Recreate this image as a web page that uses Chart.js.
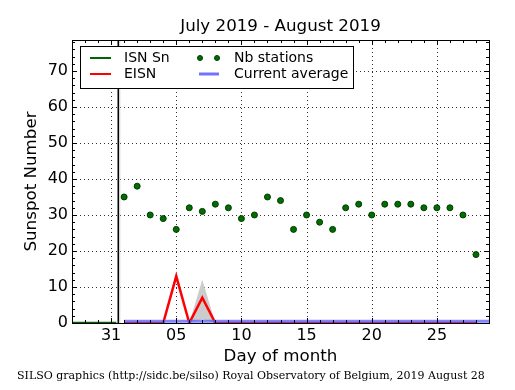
<!DOCTYPE html>
<html>
<head>
<meta charset="utf-8">
<script src="https://cdn.jsdelivr.net/npm/chart.js@4/dist/chart.umd.min.js"></script>
<style>
  body { margin: 0; background: #fff; }
  canvas { display: block; }
</style>
</head>
<body>
<canvas id="chart" width="515" height="390"></canvas>
<script>
// Days: 0 = July 31, 1..28 = August
const isnDays = [-3, -2, -1, 0, 0.4];
const isnValues = [0, 0, 0, 0, 0];

const eisnDays = [1, 2, 3, 4, 5, 6, 7, 8, 9, 10, 11, 12, 13, 14, 15, 16, 17, 18, 19, 20, 21, 22, 23, 24, 25, 26, 27, 28];
const eisnValues = [0, 0, 0, 0, 13, 0, 7, 0, 0, 0, 0, 0, 0, 0, 0, 0, 0, 0, 0, 0, 0, 0, 0, 0, 0, 0, 0, 0];
const stationValues = [35, 38, 30, 29, 26, 32, 31, 33, 32, 29, 30, 35, 34, 26, 30, 28, 26, 32, 33, 30, 33, 33, 33, 32, 32, 32, 30, 19];

const bandDays = [4, 5, 6, 7, 8];
const bandUpper = [0, 14.5, 0, 12, 0];
const bandLower = [0, 11.5, 0, 1, 0];

const avgDays = [1, 29];
const avgValues = [0.5, 0.5];

const xTickValues = [0, 5, 10, 15, 20, 25];
const xTickLabels = ['31', '05', '10', '15', '20', '25'];
const yTickValues = [0, 10, 20, 30, 40, 50, 60, 70];

const monthBoundary = 0.55;

function pts(xs, ys) {
    return xs.map((x, i) => ({ x: x, y: ys[i] }));
}

// grid, frame, inward ticks, legend and texts
const decorations = {
    id: 'decorations',
    beforeDatasetsDraw(chart) {
        const { ctx, chartArea: a, scales: { x, y } } = chart;
        ctx.save();
        ctx.strokeStyle = '#333';
        ctx.lineWidth = 1;
        ctx.setLineDash([1, 3]);
        xTickValues.forEach(v => {
            const px = Math.round(x.getPixelForValue(v)) + 0.5;
            ctx.beginPath(); ctx.moveTo(px, a.top); ctx.lineTo(px, a.bottom); ctx.stroke();
        });
        yTickValues.forEach(v => {
            if (v === 0) return;
            const py = Math.round(y.getPixelForValue(v)) + 0.5;
            ctx.beginPath(); ctx.moveTo(a.left, py); ctx.lineTo(a.right, py); ctx.stroke();
        });
        ctx.setLineDash([]);
        // start of the month
        const bx = x.getPixelForValue(monthBoundary);
        ctx.strokeStyle = '#ccc';
        ctx.lineWidth = 1;
        ctx.beginPath(); ctx.moveTo(bx + 1.5, a.top); ctx.lineTo(bx + 1.5, a.bottom); ctx.stroke();
        ctx.strokeStyle = '#000';
        ctx.lineWidth = 1.5;
        ctx.beginPath(); ctx.moveTo(bx, a.top); ctx.lineTo(bx, a.bottom); ctx.stroke();
        ctx.restore();
    },
    afterDraw(chart) {
        const { ctx, chartArea: a, scales: { x, y } } = chart;
        ctx.save();
        ctx.strokeStyle = '#000';
        ctx.lineWidth = 1;
        // minor/major ticks, pointing inwards on all four sides
        for (let d = Math.ceil(x.min); d <= x.max; d++) {
            const len = xTickValues.includes(d) ? 5 : 3;
            const px = Math.round(x.getPixelForValue(d)) + 0.5;
            ctx.beginPath();
            ctx.moveTo(px, a.bottom); ctx.lineTo(px, a.bottom - len);
            ctx.moveTo(px, a.top); ctx.lineTo(px, a.top + len);
            ctx.stroke();
        }
        for (let v = 0; v <= y.max; v += 2) {
            const len = v % 10 === 0 ? 5 : 3;
            const py = Math.round(y.getPixelForValue(v)) + 0.5;
            ctx.beginPath();
            ctx.moveTo(a.left, py); ctx.lineTo(a.left + len, py);
            ctx.moveTo(a.right, py); ctx.lineTo(a.right - len, py);
            ctx.stroke();
        }
        ctx.strokeRect(Math.round(a.left) + 0.5, Math.round(a.top) + 0.5,
            Math.round(a.right - a.left), Math.round(a.bottom - a.top));

        // legend
        const lx = 80, ly = 46, lw = 273, lh = 42;
        ctx.fillStyle = '#fff';
        ctx.fillRect(lx, ly, lw, lh);
        ctx.strokeRect(lx + 0.5, ly + 0.5, lw, lh);
        ctx.font = '14px "DejaVu Sans"';
        ctx.textBaseline = 'middle';
        ctx.textAlign = 'left';
        const r1 = 58, r2 = 74;
        ctx.lineWidth = 2;
        ctx.strokeStyle = '#006400';
        ctx.beginPath(); ctx.moveTo(90, r1); ctx.lineTo(111, r1); ctx.stroke();
        ctx.strokeStyle = '#ff0000';
        ctx.beginPath(); ctx.moveTo(90, r2); ctx.lineTo(111, r2); ctx.stroke();
        ctx.strokeStyle = 'rgba(90, 90, 255, 0.85)';
        ctx.lineWidth = 3;
        ctx.beginPath(); ctx.moveTo(199, r2); ctx.lineTo(219, r2); ctx.stroke();
        ctx.fillStyle = '#006e00';
        ctx.strokeStyle = '#003a00';
        ctx.lineWidth = 1;
        [200, 217].forEach(cx => {
            ctx.beginPath(); ctx.arc(cx, r1, 2.5, 0, Math.PI * 2); ctx.fill(); ctx.stroke();
        });
        ctx.fillStyle = '#000';
        ctx.fillText('ISN Sn', 124, r1);
        ctx.fillText('EISN', 124, r2);
        ctx.fillText('Nb stations', 234, r1);
        ctx.fillText('Current average', 234, r2);

        // titles
        ctx.textAlign = 'center';
        ctx.font = '16.7px "DejaVu Sans"';
        ctx.fillText('July 2019 - August 2019', (a.left + a.right) / 2, 27);
        ctx.fillText('Day of month', (a.left + a.right) / 2, 357);
        ctx.save();
        ctx.translate(32, (a.top + a.bottom) / 2);
        ctx.rotate(-Math.PI / 2);
        ctx.fillText('Sunspot Number', 0, 0);
        ctx.restore();
        ctx.textAlign = 'left';
        ctx.font = '11px "DejaVu Serif"';
        ctx.fillText('SILSO graphics (http://sidc.be/silso) Royal Observatory of Belgium, 2019 August 28', 17, 376);
        ctx.restore();
    }
};

new Chart(document.getElementById('chart'), {
    type: 'scatter',
    data: {
        datasets: [
            {
                label: 'band upper', data: pts(bandDays, bandUpper), showLine: true,
                borderWidth: 0, borderColor: 'rgba(0,0,0,0)', pointRadius: 0,
                backgroundColor: '#cccccc', fill: 1, order: 10
            },
            {
                label: 'band lower', data: pts(bandDays, bandLower), showLine: true,
                borderWidth: 0, borderColor: 'rgba(0,0,0,0)', pointRadius: 0, fill: false, order: 11
            },
            {
                label: 'ISN Sn', data: pts(isnDays, isnValues), showLine: true,
                borderColor: '#006400', borderWidth: 2.5, pointRadius: 0, order: 5
            },
            {
                label: 'EISN', data: pts(eisnDays, eisnValues), showLine: true,
                borderColor: '#ff0000', borderWidth: 2.5, pointRadius: 0, order: 4
            },
            {
                label: 'Current average', data: pts(avgDays, avgValues), showLine: true,
                borderColor: 'rgba(90, 90, 255, 0.75)', borderWidth: 3, pointRadius: 0, order: 3
            },
            {
                label: 'Nb stations', data: pts(eisnDays, stationValues), showLine: false,
                pointRadius: 3, pointBackgroundColor: '#006e00', pointBorderColor: '#003a00',
                pointBorderWidth: 1, order: 1
            }
        ]
    },
    options: {
        responsive: false,
        devicePixelRatio: 1,
        animation: false,
        layout: { padding: { left: 0, top: 40, right: 26, bottom: 0 } },
        plugins: { legend: { display: false }, tooltip: { enabled: false } },
        scales: {
            x: {
                type: 'linear', min: -3, max: 29,
                afterBuildTicks: s => { s.ticks = xTickValues.map(v => ({ value: v })); },
                afterFit: s => { s.height = 67; },
                grid: { display: false, drawTicks: false },
                border: { display: false },
                ticks: {
                    padding: 3,
                    color: '#000',
                    font: { family: 'DejaVu Sans', size: 16 },
                    maxRotation: 0,
                    callback: v => xTickLabels[xTickValues.indexOf(v)]
                }
            },
            y: {
                type: 'linear', min: 0, max: 78.6,
                afterBuildTicks: s => { s.ticks = yTickValues.map(v => ({ value: v })); },
                afterFit: s => { s.width = 72; },
                grid: { display: false, drawTicks: false },
                border: { display: false },
                ticks: {
                    padding: 4,
                    color: '#000',
                    font: { family: 'DejaVu Sans', size: 16 }
                }
            }
        }
    },
    plugins: [decorations]
});
</script>
</body>
</html>
